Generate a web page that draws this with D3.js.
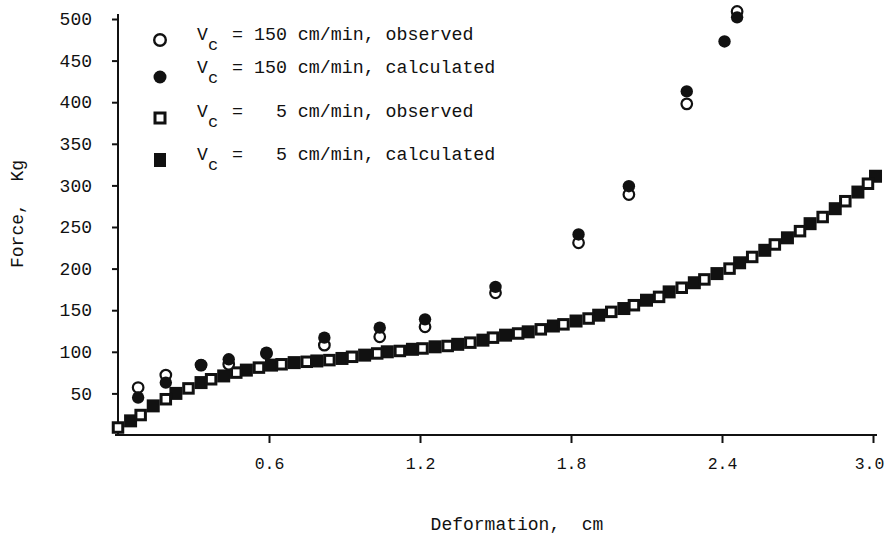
<!DOCTYPE html>
<html>
<head>
<meta charset="utf-8">
<script src="https://cdn.jsdelivr.net/npm/d3@7"></script>
<style>
	body { margin: 0; background: #fff; }
	text { font-family: 'Liberation Mono', 'DejaVu Sans Mono', monospace; fill: #111; }
</style>
</head>
<body>
<svg id="chart"></svg>
<script>

var w = 888;
var h = 539;

// Vc = 150 cm/min (circles)
var deform150Obs = [0.08, 0.19, 0.33, 0.44, 0.59, 0.82, 1.04, 1.22, 1.50, 1.83, 2.03, 2.26, 2.46];
var force150Obs = [57, 72, 84, 85, 98, 108, 118, 130, 171, 231, 289, 398, 509];
var deform150Calc = [0.08, 0.19, 0.33, 0.44, 0.59, 0.82, 1.04, 1.22, 1.50, 1.83, 2.03, 2.26, 2.41, 2.46];
var force150Calc = [45, 63, 84, 91, 99, 117, 129, 139, 178, 241, 299, 413, 473, 502];

// Vc = 5 cm/min (squares)
var deform5Obs = [0.00, 0.09, 0.19, 0.28, 0.37, 0.47, 0.56, 0.65, 0.75, 0.84, 0.93, 1.03, 1.12, 1.21, 1.31, 1.40, 1.49,
	1.59, 1.68, 1.77, 1.87, 1.96, 2.05, 2.15, 2.24, 2.33, 2.43, 2.52, 2.61, 2.71, 2.80, 2.89, 2.98];
var force5Obs = [9, 24, 43, 56, 67, 75, 81, 85, 88, 90, 94, 98, 101, 104, 107, 111, 117,
	122, 127, 133, 140, 148, 156, 166, 177, 187, 200, 214, 229, 245, 262, 281, 302];
var deform5Calc = [0.05, 0.14, 0.23, 0.33, 0.42, 0.51, 0.61, 0.70, 0.79, 0.89, 0.98, 1.07, 1.17, 1.26, 1.35, 1.45, 1.54,
	1.63, 1.73, 1.82, 1.91, 2.01, 2.10, 2.19, 2.29, 2.38, 2.47, 2.57, 2.66, 2.75, 2.85, 2.94, 3.01];
var force5Calc = [17, 35, 50, 63, 71, 78, 84, 87, 89, 92, 96, 100, 103, 106, 109, 114, 120,
	124, 131, 137, 144, 152, 162, 172, 183, 194, 207, 222, 237, 254, 272, 292, 311];

var yTicks = [50, 100, 150, 200, 250, 300, 350, 400, 450, 500];
var xTicks = [0.6, 1.2, 1.8, 2.4, 3.0];

var legendLabels = ['= 150 cm/min, observed', '= 150 cm/min, calculated', '=   5 cm/min, observed', '=   5 cm/min, calculated'];
var legendMarks = ['circleOpen', 'circleFilled', 'squareOpen', 'squareFilled'];

function zip(xs, ys) {
	return xs.map(function(d, i) { return { d: d, f: ys[i] }; });
}

var svg = d3.select('#chart')
	.attr('width', w)
	.attr('height', h);

var x = d3.scaleLinear().domain([0, 3.0]).range([118, 873]);
var y = d3.scaleLinear().domain([0, 500]).range([435, 19]);

// axes
var xAxis = svg.append('g')
	.attr('transform', 'translate(0,' + y(0) + ')')
	.call(d3.axisBottom(x)
		.tickValues(xTicks)
		.tickFormat(d3.format('.1f'))
		.tickSize(8)
		.tickSizeOuter(0)
		.tickPadding(14));

var yAxis = svg.append('g')
	.attr('transform', 'translate(' + x(0) + ',0)')
	.call(d3.axisLeft(y)
		.tickValues(yTicks)
		.tickSize(6)
		.tickSizeOuter(0)
		.tickPadding(20));

svg.selectAll('.domain').remove();
svg.selectAll('.tick line').attr('stroke', '#111').attr('stroke-width', 2);
yAxis.selectAll('.tick text').style('font-size', '18px').attr('fill', '#111');
xAxis.selectAll('.tick text').style('font-size', '16.5px').attr('fill', '#111')
	.attr('dx', function(d) { return d == 3.0 ? -4 : 0; });

svg.append('line')
	.attr('x1', x(0) - 3).attr('x2', x(3.0) + 4)
	.attr('y1', y(0)).attr('y2', y(0))
	.attr('stroke', '#111').attr('stroke-width', 2);

svg.append('line')
	.attr('x1', x(0)).attr('x2', x(0))
	.attr('y1', y(0) + 1).attr('y2', y(500) - 5)
	.attr('stroke', '#111').attr('stroke-width', 2);

// axis titles
svg.append('text')
	.attr('x', 517)
	.attr('y', 530)
	.attr('text-anchor', 'middle')
	.style('font-size', '18px')
	.style('white-space', 'pre')
	.text('Deformation,  cm');

svg.append('text')
	.attr('transform', 'translate(23,214) rotate(-90)')
	.attr('text-anchor', 'middle')
	.style('font-size', '18px')
	.style('white-space', 'pre')
	.text('Force,  Kg');

// Vc = 5 squares: filled under open
var sq = 13;
var sqo = 9.5;
svg.selectAll('.sq_calc')
	.data(zip(deform5Calc, force5Calc))
	.enter()
	.append('rect')
	.attr('class', 'sq_calc')
	.attr('x', function(d) { return x(d.d) - sq / 2; })
	.attr('y', function(d) { return y(d.f) - sq / 2; })
	.attr('width', sq)
	.attr('height', sq)
	.attr('fill', '#111');

svg.selectAll('.sq_obs')
	.data(zip(deform5Obs, force5Obs))
	.enter()
	.append('rect')
	.attr('class', 'sq_obs')
	.attr('x', function(d) { return x(d.d) - sqo / 2; })
	.attr('y', function(d) { return y(d.f) - sqo / 2; })
	.attr('width', sqo)
	.attr('height', sqo)
	.attr('fill', '#fff')
	.attr('stroke', '#111')
	.attr('stroke-width', 3);

// Vc = 150 circles: open under filled
svg.selectAll('.c_obs')
	.data(zip(deform150Obs, force150Obs))
	.enter()
	.append('circle')
	.attr('class', 'c_obs')
	.attr('cx', function(d) { return x(d.d); })
	.attr('cy', function(d) { return y(d.f); })
	.attr('r', 5.3)
	.attr('fill', '#fff')
	.attr('stroke', '#111')
	.attr('stroke-width', 2.2);

svg.selectAll('.c_calc')
	.data(zip(deform150Calc, force150Calc))
	.enter()
	.append('circle')
	.attr('class', 'c_calc')
	.attr('cx', function(d) { return x(d.d); })
	.attr('cy', function(d) { return y(d.f); })
	.attr('r', 6.2)
	.attr('fill', '#111');

// legend
var rowY = [40, 73, 117, 160];
var markY = [40, 77, 118, 160];

var legend = svg.append('g').attr('class', 'legend');

legendMarks.forEach(function(m, i) {
	var cx = 160, cy = markY[i];
	if (m == 'circleOpen') {
		legend.append('circle').attr('cx', cx).attr('cy', cy).attr('r', 5.8)
			.attr('fill', '#fff').attr('stroke', '#111').attr('stroke-width', 2.4);
	} else if (m == 'circleFilled') {
		legend.append('circle').attr('cx', cx).attr('cy', cy).attr('r', 6.5).attr('fill', '#111');
	} else if (m == 'squareOpen') {
		legend.append('rect').attr('x', cx - 5).attr('y', cy - 5).attr('width', 10).attr('height', 10)
			.attr('fill', '#fff').attr('stroke', '#111').attr('stroke-width', 3);
	} else {
		legend.append('rect').attr('x', cx - 6).attr('y', cy - 7).attr('width', 12).attr('height', 14).attr('fill', '#111');
	}

	legend.append('text')
		.attr('x', 197)
		.attr('y', rowY[i])
		.style('font-size', '18px')
		.text('V');
	legend.append('text')
		.attr('x', 208)
		.attr('y', rowY[i] + 10)
		.style('font-size', '17px')
		.text('c');
	legend.append('text')
		.attr('x', 232)
		.attr('y', rowY[i])
		.style('font-size', '18.3px')
		.style('white-space', 'pre')
		.text(legendLabels[i]);
});

</script>
</body>
</html>
